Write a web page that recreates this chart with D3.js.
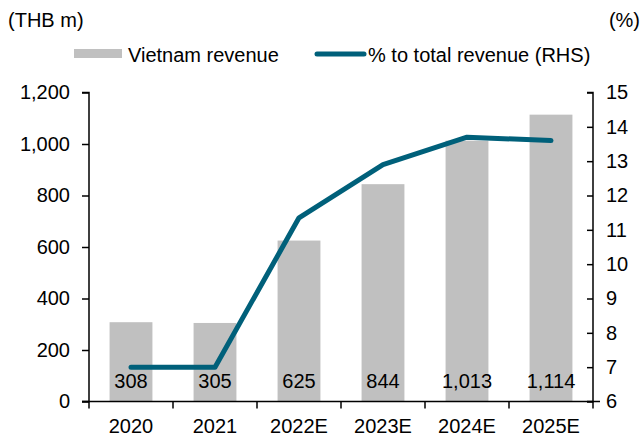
<!DOCTYPE html>
<html>
<head>
<meta charset="utf-8">
<script src="https://cdn.jsdelivr.net/npm/d3@7"></script>
<style>
  body { margin: 0; background: #fff; }
  text { font-family: "Liberation Sans", Arial, sans-serif; fill: #000; }
</style>
</head>
<body>
<svg id="chart"></svg>
<script>
// Data
const years = ["2020", "2021", "2022E", "2023E", "2024E", "2025E"];
const revenue = [308, 305, 625, 844, 1013, 1114];
const share = [7.0, 7.0, 11.35, 12.9, 13.7, 13.6];
const leftTicks = [0, 200, 400, 600, 800, 1000, 1200];
const rightTicks = [6, 7, 8, 9, 10, 11, 12, 13, 14, 15];

// Dimensions
const Width = 643;
const Height = 438;
const plotLeft = 89, plotRight = 593, plotTop = 92.5, plotBottom = 401.5;
const fontSize = "20px";

const svg = d3.select("#chart")
  .attr("width", Width)
  .attr("height", Height);

// Scales
const x = d3.scaleBand().domain(years).range([plotLeft, plotRight]).paddingInner(0.49).paddingOuter(0.245);
const xTick = d3.scaleBand().domain(years).range([plotLeft, plotRight]);
const yL = d3.scaleLinear().domain([0, 1200]).range([plotBottom, plotTop]);
const yR = d3.scaleLinear().domain([6, 15]).range([plotBottom, plotTop]);

// Bars
svg.selectAll("rect.bar")
  .data(revenue)
  .enter()
  .append("rect")
  .attr("class", "bar")
  .attr("x", (d, i) => x(years[i]))
  .attr("y", d => yL(d))
  .attr("width", x.bandwidth())
  .attr("height", d => plotBottom - yL(d))
  .style("fill", "#c0c0c0");

// Line
const line = d3.line()
  .x((d, i) => xTick(years[i]) + xTick.bandwidth() / 2)
  .y(d => yR(d));

svg.append("path")
  .datum(share)
  .attr("d", line)
  .style("fill", "none")
  .style("stroke", "#00607a")
  .style("stroke-width", 5)
  .style("stroke-linejoin", "round")
  .style("stroke-linecap", "round");

// Data labels
svg.selectAll("text.lbl")
  .data(revenue)
  .enter()
  .append("text")
  .attr("class", "lbl")
  .attr("x", (d, i) => xTick(years[i]) + xTick.bandwidth() / 2)
  .attr("y", 388)
  .attr("text-anchor", "middle")
  .style("font-size", fontSize)
  .text(d => d3.format(",")(d));

// Left axis
const leftAxis = d3.axisLeft(yL).tickValues(leftTicks).tickSize(7).tickPadding(12)
  .tickFormat(d3.format(","));
const gL = svg.append("g").attr("transform", `translate(${plotLeft},0)`).call(leftAxis);

// Right axis (ticks point inward)
const rightAxis = d3.axisRight(yR).tickValues(rightTicks).tickSize(0).tickPadding(13);
const gR = svg.append("g").attr("transform", `translate(${plotRight},0)`).call(rightAxis);
gR.selectAll(".tick").append("line").attr("class", "inner").attr("x1", -6).attr("x2", 0);

// Bottom axis
const gB = svg.append("g").attr("transform", `translate(0,${plotBottom})`);
gB.append("line").attr("x1", plotLeft - 7).attr("x2", plotRight + 7).attr("stroke", "#000").attr("stroke-width", 1.5);
gB.selectAll("line.sep")
  .data(years)
  .enter()
  .append("line")
  .attr("class", "sep")
  .attr("x1", d => xTick(d) + xTick.bandwidth())
  .attr("x2", d => xTick(d) + xTick.bandwidth())
  .attr("y1", 0).attr("y2", 7)
  .attr("stroke", "#000").attr("stroke-width", 1.5);
gB.append("line").attr("x1", plotLeft).attr("x2", plotLeft).attr("y1", 0).attr("y2", 7)
  .attr("stroke", "#000").attr("stroke-width", 1.5);
gB.selectAll("text")
  .data(years)
  .enter()
  .append("text")
  .attr("x", d => xTick(d) + xTick.bandwidth() / 2)
  .attr("y", 31)
  .attr("text-anchor", "middle")
  .style("font-size", fontSize)
  .text(d => d);

[gL, gR].forEach(g => {
  g.select(".domain").attr("stroke", "#000").attr("stroke-width", 1.5);
  g.selectAll(".tick line").attr("stroke", "#000").attr("stroke-width", 1.5);
  g.selectAll(".tick text").style("font-size", fontSize).attr("font-family", null);
});
gL.select(".domain").attr("d", `M-7,${plotTop}H0V${plotBottom}H-7`);
gR.select(".domain").attr("d", `M-6,${plotTop}H0V${plotBottom}H-6`);

// Unit labels
svg.append("text").attr("x", 8).attr("y", 27).style("font-size", fontSize).text("(THB m)");
svg.append("text").attr("x", 640).attr("y", 27).attr("text-anchor", "end").style("font-size", fontSize).text("(%)");

// Legend
svg.append("rect").attr("x", 74).attr("y", 49).attr("width", 48).attr("height", 9).style("fill", "#c0c0c0");
svg.append("text").attr("x", 128).attr("y", 62).style("font-size", fontSize).text("Vietnam revenue");
svg.append("line").attr("x1", 317).attr("x2", 364).attr("y1", 54).attr("y2", 54)
  .style("stroke", "#00607a").style("stroke-width", 5).style("stroke-linecap", "round");
svg.append("text").attr("x", 368).attr("y", 62).style("font-size", fontSize).text("% to total revenue (RHS)");
</script>
</body>
</html>
